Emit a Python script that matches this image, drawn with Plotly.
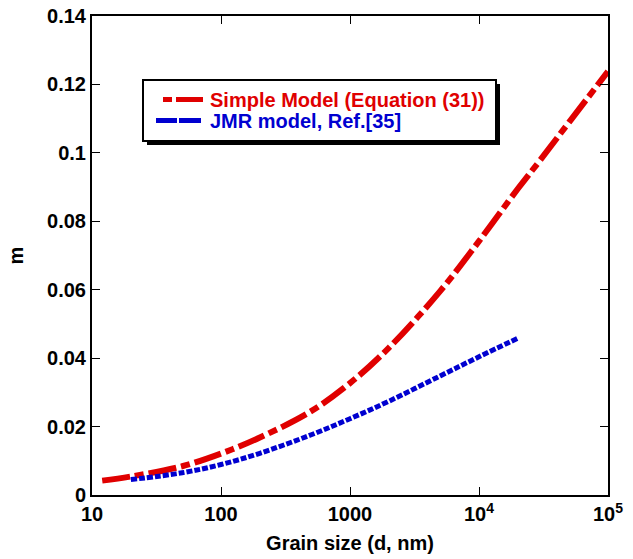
import plotly.graph_objects as go

# Data
red_d = [12, 20, 50, 100, 200, 500, 1000, 2000, 5000, 10000, 20000, 30000, 50000, 100000]
red_m = [0.0042, 0.0054, 0.0084, 0.0121, 0.0168, 0.0245, 0.0327, 0.0430, 0.0596, 0.0742,
         0.0895, 0.0980, 0.1090, 0.1238]
blue_d = [20, 50, 100, 200, 500, 1000, 2000, 5000, 10000, 20000]
blue_m = [0.0045, 0.0065, 0.0089, 0.0122, 0.0176, 0.0223, 0.0274, 0.0348, 0.0404, 0.0458]

red_name = "Simple Model (Equation (31))"
blue_name = "JMR model, Ref.[35]"

x_tickvals = [10, 100, 1000, 10000, 100000]
x_ticktext = ["10", "100", "1000", "10<sup>4</sup>", "10<sup>5</sup>"]
y_tickvals = [0, 0.02, 0.04, 0.06, 0.08, 0.1, 0.12, 0.14]
y_ticktext = ["0", "0.02", "0.04", "0.06", "0.08", "0.1", "0.12", "0.14"]

FONT = "Liberation Sans, Arial, Helvetica, sans-serif"
RED = "#e00000"
BLUE = "#0000d0"

W, H = 633, 559
ML, MR, MT, MB = 92, 25, 16, 64
PW, PH = W - ML - MR, H - MT - MB


def px(x):
    return (x - ML) / PW


def py(y):
    return (H - MB - y) / PH


fig = go.Figure()
fig.add_trace(go.Scatter(
    x=red_d, y=red_m, mode="lines", name=red_name, showlegend=False,
    line=dict(color=RED, width=6, dash="28px,5px,9px,5px", shape="spline", smoothing=1.0),
))
fig.add_trace(go.Scatter(
    x=blue_d, y=blue_m, mode="lines", name=blue_name, showlegend=False,
    line=dict(color=BLUE, width=5, dash="6px,2px", shape="spline", smoothing=1.0),
))

# Hand-built legend box with drop shadow
shapes = [
    dict(type="rect", xref="paper", yref="paper",
         x0=px(147), x1=px(500), y0=py(145), y1=py(84),
         fillcolor="black", line=dict(width=0), layer="above"),
    dict(type="rect", xref="paper", yref="paper",
         x0=px(143), x1=px(496), y0=py(141), y1=py(80),
         fillcolor="white", line=dict(color="black", width=2), layer="above"),
    dict(type="line", xref="paper", yref="paper",
         x0=px(163), x1=px(203), y0=py(99.5), y1=py(99.5),
         line=dict(color=RED, width=5, dash="9px,4px,27px,100px"), layer="above"),
    dict(type="line", xref="paper", yref="paper",
         x0=px(156), x1=px(201), y0=py(120.5), y1=py(120.5),
         line=dict(color=BLUE, width=5, dash="21px,2px,22px,100px"), layer="above"),
]
annotations = [
    dict(text=red_name, xref="paper", yref="paper", x=px(208), y=py(100),
         xanchor="left", yanchor="middle", showarrow=False,
         font=dict(family=FONT, size=20, color=RED, weight="bold")),
    dict(text=blue_name, xref="paper", yref="paper", x=px(208), y=py(121),
         xanchor="left", yanchor="middle", showarrow=False,
         font=dict(family=FONT, size=20, color=BLUE, weight="bold")),
]

fig.update_layout(
    width=W, height=H,
    margin=dict(l=ML, r=MR, t=MT, b=MB),
    plot_bgcolor="white", paper_bgcolor="white",
    font=dict(family=FONT, size=20, color="black"),
    showlegend=False,
    shapes=shapes,
    annotations=annotations,
)

fig.update_xaxes(
    type="log", range=[1, 5], automargin=False,
    tickvals=x_tickvals, ticktext=x_ticktext,
    ticks="inside", ticklen=8, tickwidth=1, tickcolor="black",
    showline=True, linecolor="black", linewidth=2, mirror="ticks",
    showgrid=False, zeroline=False,
    tickfont=dict(family=FONT, size=20, weight="bold"),
    title=dict(text="Grain size (d, nm)", font=dict(family=FONT, size=20, weight="bold"), standoff=12),
)
fig.update_yaxes(
    range=[0, 0.14], automargin=False,
    tickvals=y_tickvals, ticktext=y_ticktext,
    ticks="inside", ticklen=8, tickwidth=1, tickcolor="black",
    showline=True, linecolor="black", linewidth=2, mirror="ticks",
    showgrid=False, zeroline=False,
    tickfont=dict(family=FONT, size=20, weight="bold"),
    title=dict(text="m", font=dict(family=FONT, size=20, weight="bold"), standoff=18),
)

fig.write_html("out.html")
